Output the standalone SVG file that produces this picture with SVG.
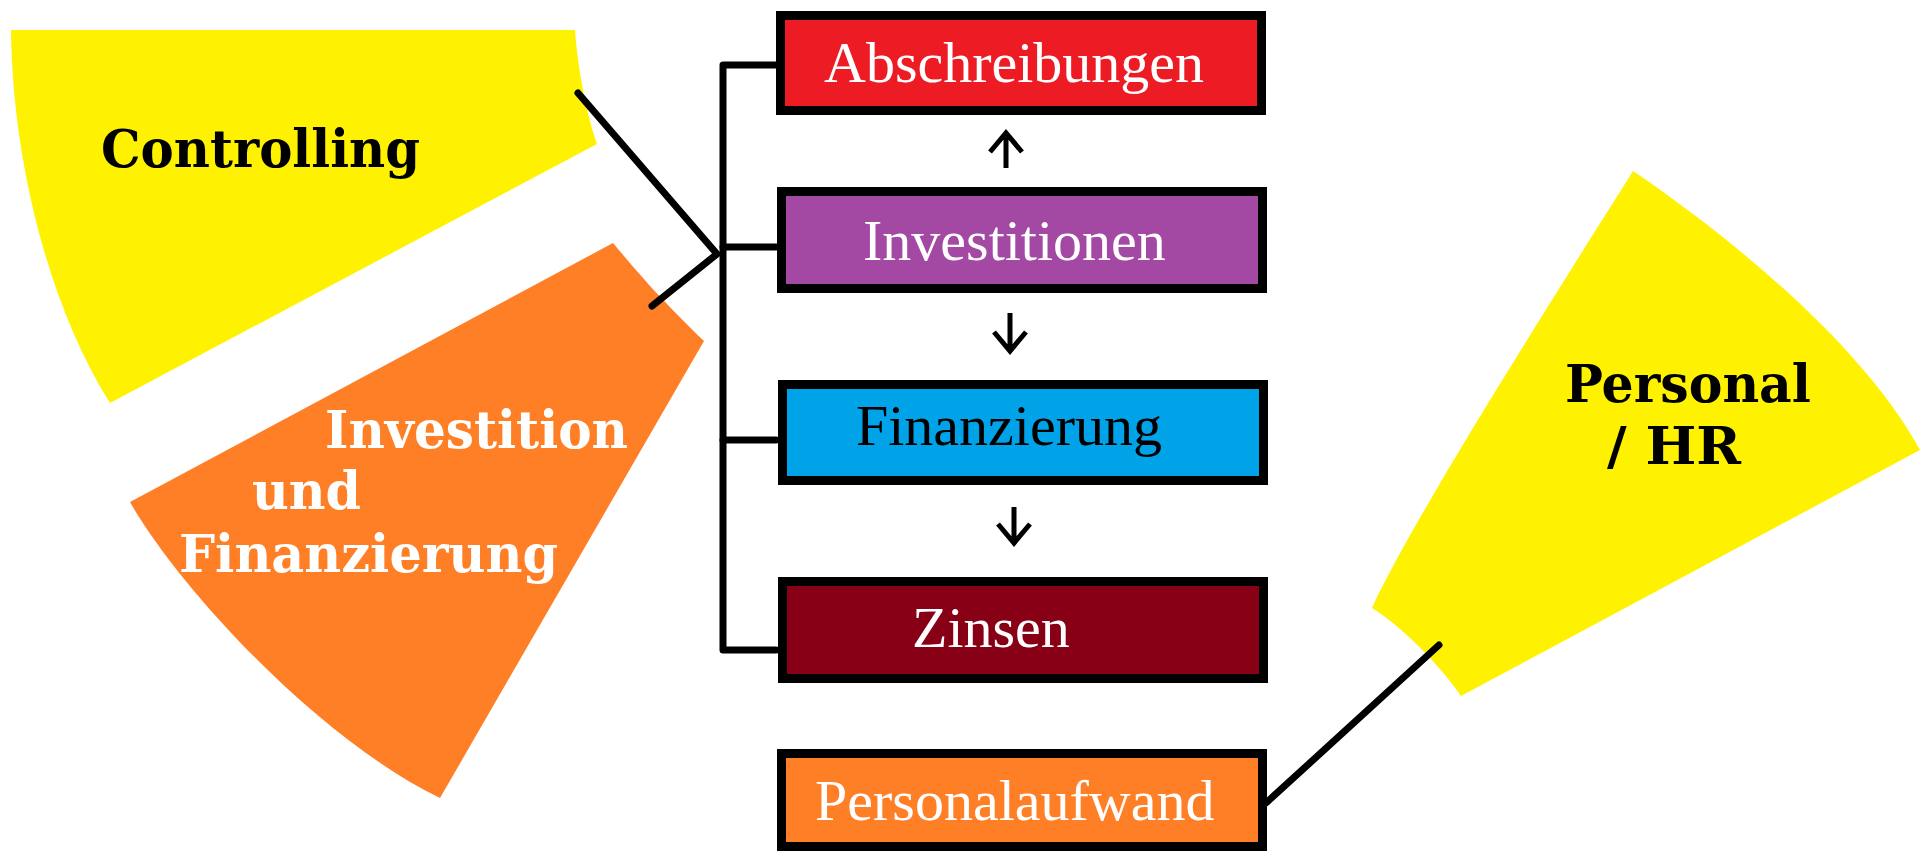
<svg xmlns="http://www.w3.org/2000/svg" width="1932" height="852" viewBox="0 0 1932 852">
<style>
.box{stroke:#000;stroke-width:9}
.bt{font-family:"Liberation Serif","Times New Roman",serif;font-size:58px;fill:#fff}
.st{font-family:"DejaVu Serif","Liberation Serif",serif;font-weight:bold;font-size:52px}
.con{fill:none;stroke:#000;stroke-width:7;stroke-linecap:round;stroke-linejoin:round}
.arr{fill:none;stroke:#000;stroke-width:5;stroke-linecap:butt;stroke-linejoin:miter}
</style>
<rect width="1932" height="852" fill="#fff"/>
<g id="controlling">
<path d="M11 30 L575 30 C577 60 585 110 597 144 L110 403 C45 300 12 150 11 30 Z" fill="#FFF200"/>
<text class="st" x="101" y="167" fill="#000" textLength="319" lengthAdjust="spacingAndGlyphs">Controlling</text>
</g>
<g id="investition-finanzierung">
<path d="M130 502 L613 243 C630 263 654 293 704 341 L440 798 C320 740 180 590 130 502 Z" fill="#FF7F27"/>
<text class="st" x="325" y="448" fill="#fff" textLength="303" lengthAdjust="spacingAndGlyphs">Investition</text>
<text class="st" x="252" y="509" fill="#fff" textLength="109" lengthAdjust="spacingAndGlyphs">und</text>
<text class="st" x="179" y="572" fill="#fff" textLength="379" lengthAdjust="spacingAndGlyphs">Finanzierung</text>
</g>
<g id="personal-hr">
<path d="M1633 171 C1720 230 1860 340 1920 450 L1461 696 C1440 665 1400 625 1372 608 C1412 520 1552 300 1633 171 Z" fill="#FFF200"/>
<text class="st" x="1565" y="402" fill="#000" textLength="246" lengthAdjust="spacingAndGlyphs">Personal</text>
<text class="st" x="1607" y="464" fill="#000" textLength="134" lengthAdjust="spacingAndGlyphs">/ HR</text>
</g>
<g id="connectors">
<path class="con" d="M578 93 L717 254 L652 306"/>
<path class="con" d="M776 65 H723 V650 H776"/>
<path class="con" d="M723 247 H776"/>
<path class="con" d="M723 440 H776"/>
<path class="con" d="M1266 803 L1439 645"/>
<path class="arr" d="M1006 168 V133 M990 152 L1006 133 L1022 152"/>
<path class="arr" d="M1010 313 V350 M994 332 L1010 351 L1026 332"/>
<path class="arr" d="M1014 507 V542 M998 524 L1014 543 L1030 524"/>
</g>
<g id="abschreibungen">
<rect class="box" x="780.5" y="15.5" width="481" height="95" fill="#ED1C24"/>
<text class="bt" x="824" y="82">Abschreibungen</text>
</g>
<g id="investitionen">
<rect class="box" x="781.5" y="191.5" width="481" height="97" fill="#A349A4"/>
<text class="bt" x="863" y="260">Investitionen</text>
</g>
<g id="finanzierung">
<rect class="box" x="782.5" y="384.5" width="481" height="96" fill="#00A2E8"/>
<text class="bt" x="856" y="445" style="fill:#000">Finanzierung</text>
</g>
<g id="zinsen">
<rect class="box" x="782.5" y="581.5" width="481" height="97" fill="#880015"/>
<text class="bt" x="912" y="647">Zinsen</text>
</g>
<g id="personalaufwand">
<rect class="box" x="781.5" y="753.5" width="481" height="93" fill="#FF7F27"/>
<text class="bt" x="815" y="820">Personalaufwand</text>
</g>
</svg>
